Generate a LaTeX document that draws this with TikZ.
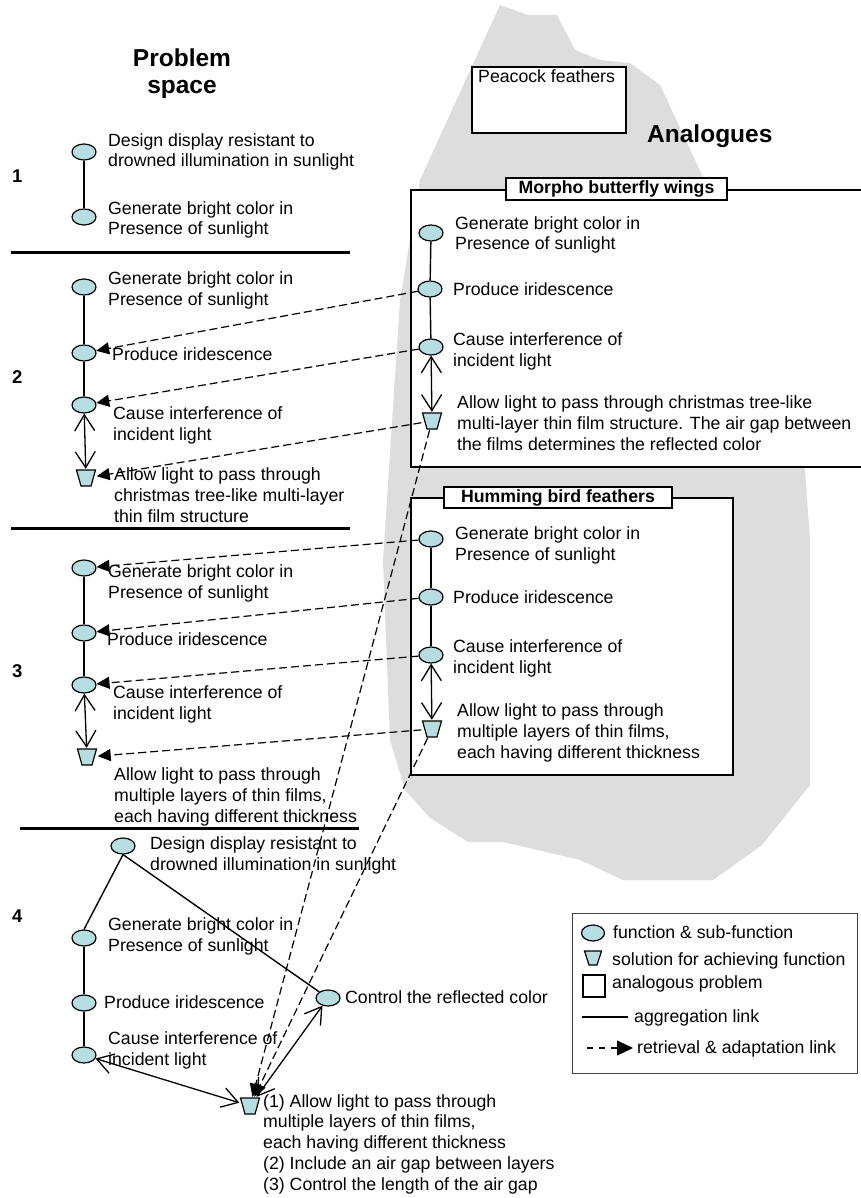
\documentclass[tikz,border=0pt]{standalone}
\usepackage{fontspec}
\setmainfont{Liberation Sans}
\usetikzlibrary{shapes.geometric, arrows.meta}
\definecolor{fncol}{HTML}{B6DEE0}
\definecolor{blobgray}{HTML}{DDDDDD}
\newcommand\bodyfs{\fontsize{17.7}{20.7}\selectfont}
\newcommand\headfs{\fontsize{24.5}{27}\selectfont\bfseries}
\newcommand\numfs{\fontsize{18.5}{20}\selectfont\bfseries}
\begin{document}
\begin{tikzpicture}[x=1pt,y=-1pt,
  fn/.style={ellipse, draw, fill=fncol, line width=1.2pt, minimum width=24pt, minimum height=16pt, inner sep=0pt},
  sol/.style={rectangle, minimum width=21pt, minimum height=18pt, inner sep=0pt,
    path picture={\filldraw[fill=fncol, line width=1.2pt, line join=miter]
      ([shift={(1,1)}]path picture bounding box.north west) --
      ([shift={(-1,1)}]path picture bounding box.north east) --
      ([shift={(-5.5,-1)}]path picture bounding box.south east) --
      ([shift={(5.5,-1)}]path picture bounding box.south west) -- cycle;}},
  txt/.style={anchor=base west, align=left, inner sep=0pt, font=\bodyfs},
  head/.style={inner sep=0pt, font=\headfs},
  num/.style={anchor=base west, inner sep=0pt, font=\numfs},
  agg/.style={line width=1.4pt},
  dbl/.style={line width=1.3pt, {Straight Barb[length=16pt,width=20pt]}-{Straight Barb[length=16pt,width=20pt]}},
  ret/.style={line width=1.2pt, dash pattern=on 8pt off 4pt, -{Triangle[length=13pt,width=12pt]}},
  divider/.style={line width=3pt},
  frame/.style={draw, fill=white, line width=1.3pt},
  title/.style={draw, fill=white, line width=1.3pt, inner sep=0pt, font=\bodyfs\bfseries}
]
\useasboundingbox (0,0) rectangle (861,1198);
\clip (0,0) rectangle (861,1198);

% gray analogue region
\fill[blobgray] (500,5) -- (528,15) -- (557,15) -- (575,50) -- (600,60) -- (630,63) -- (660,85)
  -- (703,177) -- (780,320) -- (805,470) -- (810,540) -- (810,785) -- (762,845) -- (713,880)
  -- (623,880) -- (580,860) -- (503,842) -- (468,842) -- (430,818) -- (405,790) -- (390,740)
  -- (383,560) -- (393,407) -- (400,300) -- (420,180) -- cycle;

% headings
\node[head, align=center, anchor=base] (hps) at (182,94) {Problem\\space};
\node[head, anchor=base west] (han) at (647,143) {Analogues};
\node[num] (n1) at (12,183) {1};
\node[num] (n2) at (12,383) {2};
\node[num] (n3) at (12,677) {3};
\node[num] (n4) at (12,922) {4};

% dividers
\draw[divider] (11,252) -- (350,252);
\draw[divider] (11,528) -- (350,528);
\draw[divider] (20,828) -- (359,828);

% peacock
\node[frame, minimum width=154pt, minimum height=66pt, inner sep=0pt] (peacock) at (549,100) {};
\node[txt] (tpea) at (478,83) {Peacock feathers};

% Morpho box
\draw[frame] (411,190) rectangle (875,467);
\node[title, minimum width=221pt, minimum height=22pt] (tmor) at (616.5,189) {Morpho butterfly wings};
% Humming box
\draw[frame] (411,498) rectangle (733,775);
\node[title, minimum width=228pt, minimum height=21pt] (thum) at (558,497.5) {Humming bird feathers};

% Section 1
\node[fn] (e11) at (84,152) {};
\node[fn] (e12) at (84,217) {};
\node[txt] at (108,167) {Design display resistant to\\drowned illumination in sunlight};
\node[txt] at (108,235) {Generate bright color in\\Presence of sunlight};
\draw[agg] (e11) -- (e12);

% Section 2
\node[fn] (e21) at (84,287) {};
\node[fn] (e22) at (84,353) {};
\node[fn] (e23) at (84,405) {};
\node[sol] (s2) at (86,478) {};
\node[txt] at (108,305) {Generate bright color in\\Presence of sunlight};
\node[txt] at (112,360) {Produce iridescence};
\node[txt] at (113,440) {Cause interference of\\incident light};
\node[txt] at (114,522) {Allow light to pass through\\christmas tree-like multi-layer\\thin film structure};
\draw[agg] (e21) -- (e22);
\draw[agg] (e22) -- (e23);
\draw[dbl] (e23) -- (s2);

% Morpho
\node[fn] (m1) at (431,233) {};
\node[fn] (m2) at (430,289) {};
\node[fn] (m3) at (431,347) {};
\node[sol] (ms) at (432,421) {};
\node[txt] at (455,250) {Generate bright color in\\Presence of sunlight};
\node[txt] at (453,295) {Produce iridescence};
\node[txt] at (453,366) {Cause interference of\\incident light};
\node[txt] at (457,450) {Allow light to pass through christmas tree-like\\multi-layer thin film structure. The air gap between\\the films determines the reflected color};
\draw[agg] (m1) -- (m2);
\draw[agg] (m2) -- (m3);
\draw[dbl] (m3) -- (ms);

% Humming
\node[fn] (h1) at (431,539) {};
\node[fn] (h2) at (431,597) {};
\node[fn] (h3) at (431,655) {};
\node[sol] (hs) at (432,729) {};
\node[txt] at (455,560) {Generate bright color in\\Presence of sunlight};
\node[txt] at (453,603) {Produce iridescence};
\node[txt] at (453,673) {Cause interference of\\incident light};
\node[txt] at (457,758) {Allow light to pass through\\multiple layers of thin films,\\each having different thickness};
\draw[agg] (h1) -- (h2);
\draw[agg] (h2) -- (h3);
\draw[dbl] (h3) -- (hs);

% Section 3
\node[fn] (e31) at (84,568) {};
\node[fn] (e32) at (84,633) {};
\node[fn] (e33) at (84,685) {};
\node[sol] (s3) at (87,757) {};
\node[txt] at (108,598) {Generate bright color in\\Presence of sunlight};
\node[txt] at (107,645) {Produce iridescence};
\node[txt] at (113,719) {Cause interference of\\incident light};
\node[txt] at (114,822) {Allow light to pass through\\multiple layers of thin films,\\each having different thickness};
\draw[agg] (e31) -- (e32);
\draw[agg] (e32) -- (e33);
\draw[dbl] (e33) -- (s3);

% Section 4
\node[fn] (e40) at (123,846) {};
\node[fn] (e41) at (84,938) {};
\node[fn] (e42) at (84,1003) {};
\node[fn] (e43) at (84,1055) {};
\node[fn] (e44) at (328,998) {};
\node[sol] (s4) at (250,1106) {};
\node[txt] at (150,870) {Design display resistant to\\drowned illumination in sunlight};
\node[txt] at (108,951) {Generate bright color in\\Presence of sunlight};
\node[txt] at (104,1008) {Produce iridescence};
\node[txt] at (108,1065) {Cause interference of\\incident light};
\node[txt] at (345,1003) {Control the reflected color};
\node[txt] at (263,1190) {(1) Allow light to pass through\\multiple layers of thin films,\\each having different thickness\\(2) Include an air gap between layers\\(3) Control the length of the air gap};
\draw[agg] (e40.south) -- (e41.north);
\draw[agg] (e40.south) -- (e44);
\draw[agg] (e41) -- (e42);
\draw[agg] (e42) -- (e43);
\draw[dbl] (e43) -- (s4);
\draw[dbl] (e44) -- (s4);

% retrieval links
\draw[ret] (m2) -- (e22);
\draw[ret] (m3) -- (e23);
\draw[ret] (ms) -- (s2);
\draw[ret] (h1) -- (e31);
\draw[ret] (h2) -- (e32);
\draw[ret] (h3) -- (e33);
\draw[ret] (hs) -- (s3);
\draw[ret] (ms) -- (s4);
\draw[ret] (hs) -- (s4);

% legend
\node[draw=black!75, line width=1pt, minimum width=285pt, minimum height=160pt, inner sep=0pt] (legend) at (714.5,993) {};
\node[fn, minimum width=23pt] (lfn) at (593,933) {};
\node[txt] at (613,938) {function \& sub-function};
\node[sol, minimum width=19pt, minimum height=16pt] (lsol) at (593,958) {};
\node[txt] at (612,965) {solution for achieving function};
\node[draw, line width=1.2pt, minimum width=22pt, minimum height=22pt, inner sep=0pt] (lsq) at (594,986) {};
\node[txt] at (612,988) {analogous problem};
\coordinate (la1) at (582,1017);
\coordinate (la2) at (628,1017);
\draw[agg] (la1) -- (la2);
\node[txt] at (634,1022) {aggregation link};
\coordinate (lr1) at (587,1048);
\coordinate (lr2) at (633,1048);
\draw[line width=1.2pt, dash pattern=on 6pt off 6pt, -{Triangle[length=16pt,width=15pt]}] (lr1) -- (lr2);
\node[txt] at (637,1053) {retrieval \& adaptation link};
\end{tikzpicture}
\end{document}
